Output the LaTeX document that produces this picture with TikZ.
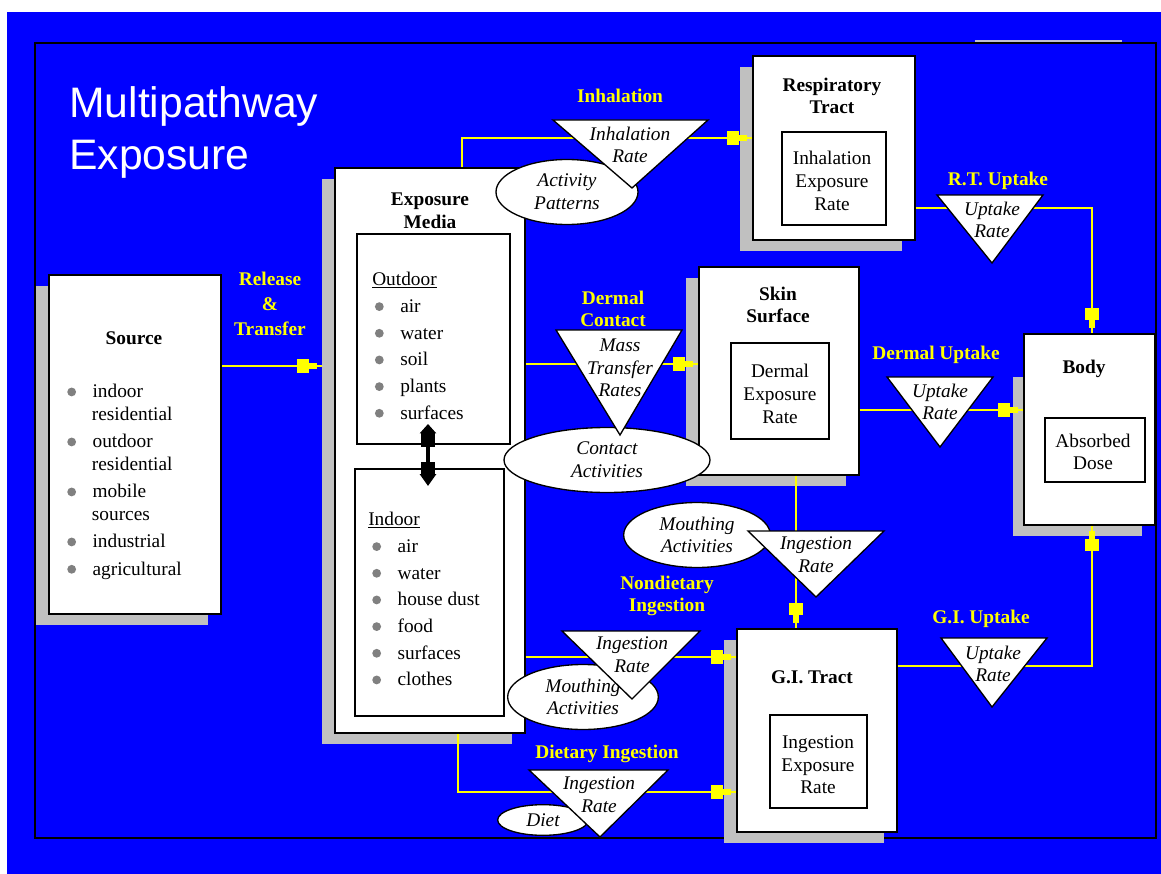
\documentclass[tikz,border=0pt]{standalone}
\usepackage{fontspec}
\setmainfont{Liberation Serif}
\newfontfamily\titlefont{Liberation Sans}
\usetikzlibrary{arrows.meta,shapes.geometric,fit,shadows}
\definecolor{bgblue}{RGB}{0,0,255}
\definecolor{ylw}{RGB}{255,255,0}
\definecolor{shgray}{RGB}{192,192,192}
\definecolor{bulgray}{RGB}{128,128,128}
\definecolor{rulegray}{RGB}{190,190,215}
\newcommand{\lbul}{\makebox[19pt][l]{\smash{\raisebox{1pt}{\tikz\fill[bulgray] (0,0) circle [radius=3.3pt];}}}}
\newcommand{\lind}{\hspace*{18.5pt}}
\begin{document}
\begin{tikzpicture}[x=0.75pt,y=0.75pt,yscale=-1,xscale=1,
  frm/.style={draw, fill=white, inner sep=0pt, line width=1.3pt},
  box/.style={frm, drop shadow={shadow xshift=-9.5pt, shadow yshift=-8.5pt, fill=shgray, opacity=1}},
  inbox/.style={frm, line width=1pt},
  tri/.style={draw, fill=white, line width=1pt},
  tx/.style={font=\fontsize{14.5}{17}\selectfont, align=center, inner sep=0pt},
  btx/.style={tx, font=\fontsize{14.5}{17}\selectfont\bfseries},
  itx/.style={tx, font=\fontsize{14.5}{17}\selectfont\itshape},
  ylab/.style={btx, text=ylw},
  lst/.style={tx, align=left, anchor=north west},
  ell/.style={ellipse, draw, fill=white, line width=1pt, itx},
  yline/.style={draw=ylw, line width=1.1pt},
  yarr/.style={yline, -{Rectangle[length=9pt,width=10.5pt,sep=0pt]Rectangle[length=5.5pt,width=5pt,sep=0pt]Rectangle[length=4pt,width=0.1pt,sep=0pt]}},
  darr/.style={line width=2.5pt, {Triangle[length=7pt,width=12pt]Rectangle[length=10pt,width=11pt]}-{Rectangle[length=9pt,width=11pt]Triangle[length=9pt,width=12pt]}}
]
\useasboundingbox (0,0) rectangle (1161,874);
\fill[white] (0,0) rectangle (1161,874);
\fill[bgblue] (7,12) rectangle (1161,874);

%Shape: Rectangle
\draw[line width=1.4pt] (35,43) rectangle (1156,838);
%Straight Lines
\draw[rulegray, line width=1.5pt] (975,41) -- (1122,41);

% Text Node
\draw (69,132) node (ttl) [anchor=west, align=left, inner sep=0pt, text=white, font=\titlefont\fontsize{32}{39}\selectfont] {Multipathway\\Exposure};

%Shape: Rectangle
\node (src) [box, fit={(49,275) (221,614)}] {};
\node (media) [box, fit={(335,168) (525,733)}] {};
\node (outd) [inbox, fit={(357,234) (510,444)}] {};
\node (ind) [inbox, fit={(355,469) (504,716)}] {};
\node (resp) [box, fit={(753,56) (915,240)}] {};
\node (respin) [inbox, fit={(782,132) (886,225)}] {};
\node (skin) [box, fit={(699,267) (859,475)}] {};
\node (skinin) [inbox, fit={(731,343) (829,439)}] {};
\fill[shgray] (1013,377) rectangle (1142,536);
\node (body) [frm, fit={(1024,334) (1155,525)}] {};
\node (bodyin) [inbox, fit={(1045,418) (1145,482)}] {};
\node (gi) [box, fit={(737,629) (897,832)}] {};
\node (giin) [inbox, fit={(770,715) (867,808)}] {};

%Straight Lines
\draw[yarr, shorten >=9pt] (src.east |- 0,366) -- (media.west |- 0,366);
\draw[yarr] (media.north -| 462,0) |- (resp.west |- 0,138);
\draw[yarr] (media.east |- 0,364) -- (skin.west |- 0,364);
\draw[yarr] (media.east |- 0,657) -- (gi.west |- 0,657);
\draw[yarr] (media.south -| 458,0) |- (gi.west |- 0,792);
\draw[yarr] (skin.south -| 796,0) -- (gi.north -| 796,0);
\draw[yarr] (resp.east |- 0,208) -| (body.north -| 1092,0);
\draw[yarr] (skin.east |- 0,410) -- (body.west |- 0,410);
\draw[yarr] (gi.east |- 0,666) -| (body.south -| 1092,0);
\coordinate (dtop) at (428,424);
\coordinate (dbot) at (428,486);
\draw[darr] (dtop) -- (dbot);

%Shape: Ellipse
\draw (567,192) node (eact) [ell, minimum width=106.5pt, minimum height=48.75pt] {Activity\\Patterns};
\draw (607,460) node (econ) [ell, minimum width=154.5pt, minimum height=48.75pt] {Contact\\Activities};
\draw (697,535) node (emou) [ell, minimum width=110pt, minimum height=48.75pt] {Mouthing\\Activities};
\draw (583,697) node (emoud) [ell, minimum width=113pt, minimum height=48.75pt] {Mouthing\\Activities};
\draw (543,820) node (ediet) [ell, minimum width=68pt, minimum height=23pt] {Diet};

%Shape: Triangle
\draw[tri] (553,120) -- (708,120) -- (632,188) -- cycle;
\draw[tri] (556,330) -- (682,330) -- (620,435) -- cycle;
\draw[tri] (937,195) -- (1043,195) -- (992,263) -- cycle;
\draw[tri] (887,377) -- (993,377) -- (940,447) -- cycle;
\draw[tri] (748,531) -- (884,531) -- (816,597) -- cycle;
\draw[tri] (562,631) -- (700,631) -- (632,699) -- cycle;
\draw[tri] (529,770) -- (668,770) -- (600,837) -- cycle;
\draw[tri] (941,638) -- (1047,638) -- (992,707) -- cycle;

% Text Node
\draw (630,145) node (tinh) [itx] {Inhalation\\Rate};
\draw (620,368) node (tmass) [itx] {Mass\\Transfer\\Rates};
\draw (992,220) node (trt) [itx] {Uptake\\Rate};
\draw (940,402) node (tdup) [itx] {Uptake\\Rate};
\draw (816,555) node (tming) [itx] {Ingestion\\Rate};
\draw (632,655) node (tnond) [itx] {Ingestion\\Rate};
\draw (599,795) node (tdiet) [itx] {Ingestion\\Rate};
\draw (993,664) node (tgi) [itx] {Uptake\\Rate};

% Text Node
\draw (270,304) node (lrel) [ylab] {Release\\[2pt]\&\\[2pt]Transfer};
\draw (620,96) node (linh) [ylab] {Inhalation};
\draw (613,309) node (lderm) [ylab] {Dermal\\Contact};
\draw (998,181) node (lrt) [ylab] {R.T. Uptake};
\draw (936,355) node (ldup) [ylab] {Dermal Uptake};
\draw (667,596) node (lnond) [ylab] {Nondietary\\Ingestion};
\draw (607,754) node (ldiet) [ylab] {Dietary Ingestion};
\draw (981,619) node (lgi) [ylab] {G.I. Uptake};

% Text Node
\draw (134,338) node (srct) [btx] {Source};
\draw (67,384) node (srcl) [lst] {\lbul indoor\\\lind residential\\[3.5pt]\lbul outdoor\\\lind residential\\[3.5pt]\lbul mobile\\\lind sources\\[3.5pt]\lbul industrial\\[3.5pt]\lbul agricultural};
\draw (430,211) node (mediat) [btx] {Exposure\\Media};
\draw (372,272) node (outl) [lst] {\underline{Outdoor}\\[3pt]\hspace*{2pt}\lbul air\\[3pt]\hspace*{2pt}\lbul water\\[3pt]\hspace*{2pt}\lbul soil\\[3pt]\hspace*{2pt}\lbul plants\\[3pt]\hspace*{2pt}\lbul surfaces};
\draw (368,512) node (indl) [lst] {\underline{Indoor}\\[3pt]\hspace*{3pt}\lbul air\\[3pt]\hspace*{3pt}\lbul water\\[3pt]\hspace*{3pt}\lbul house dust\\[3pt]\hspace*{3pt}\lbul food\\[3pt]\hspace*{3pt}\lbul surfaces\\[3pt]\hspace*{3pt}\lbul clothes};
\draw (832,96) node (respt) [btx] {Respiratory\\Tract};
\draw (832,181) node (respx) [tx] {Inhalation\\Exposure\\Rate};
\draw (778,305) node (skint) [btx] {Skin\\Surface};
\draw (780,394) node (skinx) [tx] {Dermal\\Exposure\\Rate};
\draw (1084,369) node (bodyt) [btx] {Body};
\draw (1093,452) node (bodyx) [tx] {Absorbed\\Dose};
\draw (812,677) node (git) [btx] {G.I. Tract};
\draw (818,765) node (gix) [tx] {Ingestion\\Exposure\\Rate};

\end{tikzpicture}
\end{document}
